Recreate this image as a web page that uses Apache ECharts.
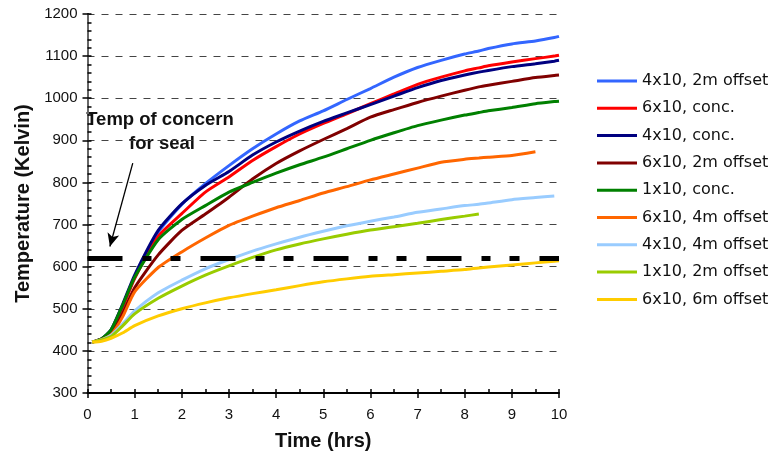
<!DOCTYPE html>
<html>
<head>
<meta charset="utf-8">
<script src="https://cdn.jsdelivr.net/npm/echarts@6/dist/echarts.min.js"></script>
<style>
  html, body { margin: 0; padding: 0; background: #fff; }
  #chart { width: 775px; height: 458px; }
</style>
</head>
<body>
<div id="chart"></div>
<script>
// time in hours
var hours = [0.1, 0.3, 0.5, 0.75, 1, 1.5, 2, 2.5, 3, 3.5, 4, 4.5, 5, 5.5, 6, 6.5, 7, 7.5, 8, 8.3, 8.5, 9, 9.5, 9.9, 10]

// temperatures (Kelvin), one array per case
var t4x10Off2 = [421, 428, 445, 505, 575, 682, 748, 797, 840, 880, 915, 946, 970, 997, 1023, 1050, 1073, 1090, 1105, 1112, 1118, 1129, 1136, 1144, 1147]
var t6x10Conc = [421, 428, 445, 505, 572, 672, 726, 777, 813, 852, 885, 915, 940, 963, 987, 1010, 1033, 1050, 1065, 1072, 1077, 1086, 1094, 1100, 1102]
var t4x10Conc = [421, 429, 450, 512, 580, 686, 749, 793, 826, 865, 896, 922, 945, 965, 985, 1005, 1025, 1042, 1055, 1062, 1066, 1075, 1082, 1088, 1090]
var t6x10Off2 = [421, 427, 440, 490, 550, 628, 686, 725, 765, 808, 845, 875, 902, 928, 955, 973, 990, 1005, 1019, 1027, 1031, 1040, 1049, 1054, 1055]
var t1x10Conc = [421, 429, 450, 510, 575, 664, 712, 745, 777, 800, 822, 842, 860, 880, 900, 918, 935, 948, 960, 966, 970, 978, 987, 992, 993]
var t6x10Off4 = [421, 427, 438, 482, 540, 598, 635, 668, 698, 720, 740, 757, 775, 790, 806, 820, 834, 848, 855, 858, 860, 864, 873, null, null]
var t4x10Off4 = [421, 426, 437, 465, 495, 538, 568, 595, 617, 637, 654, 670, 684, 697, 708, 718, 729, 737, 745, 748, 751, 759, 764, 768, null]
var t1x10Off2 = [421, 426, 434, 460, 488, 525, 554, 580, 602, 622, 640, 654, 666, 677, 687, 695, 703, 712, 720, 725, null, null, null, null, null]
var t6x10Off6 = [421, 423, 430, 443, 460, 483, 500, 514, 526, 536, 545, 555, 564, 571, 577, 581, 585, 589, 593, 597, 599, 604, 609, 613, 614]

var seriesNames = ['4x10, 2m offset', '6x10, conc.', '4x10, conc.', '6x10, 2m offset', '1x10, conc.',
  '6x10, 4m offset', '4x10, 4m offset', '1x10, 2m offset', '6x10, 6m offset']
var seriesValues = [t4x10Off2, t6x10Conc, t4x10Conc, t6x10Off2, t1x10Conc, t6x10Off4, t4x10Off4, t1x10Off2, t6x10Off6]
var seriesColors = ['#3366FF', '#FF0000', '#000080', '#800000', '#008000', '#FF6600', '#99CCFF', '#99CC00', '#FFCC00']

var concernTemp = 620

function pairs(vals) {
  var out = []
  for (var i = 0; i < hours.length; i++) {
    if (vals[i] != null) out.push([hours[i], vals[i]])
  }
  return out
}

var chart = echarts.init(document.getElementById('chart'), null, { renderer: 'canvas' })

var series = seriesNames.map(function(name, i) {
  return {
    name: name,
    type: 'line',
    data: pairs(seriesValues[i]),
    showSymbol: false,
    symbol: 'none',
    smooth: 0.2,
    lineStyle: { color: seriesColors[i], width: 3 },
    itemStyle: { color: seriesColors[i] },
    z: 3
  }
})

// threshold line + arrow
series.push({
  name: 'concern',
  type: 'line',
  data: [],
  markLine: {
    silent: true,
    animation: false,
    label: { show: false },
    emphasis: { disabled: true },
    data: [
      [
        { coord: [0, concernTemp], symbol: 'none', lineStyle: { color: '#000', width: 5, type: [35, 20, 9, 19, 10, 20], cap: 'butt' } },
        { coord: [10, concernTemp], symbol: 'none' }
      ],
      [
        { coord: [0.96, 846], symbol: 'none', lineStyle: { color: '#000', width: 1.3, type: 'solid' } },
        { coord: [0.475, 648], symbol: 'arrow', symbolSize: [9, 13] }
      ]
    ]
  },
  z: 5
})

var labelFont = { fontFamily: 'Liberation Sans', fontSize: 15, color: '#111' }
var plain = function(v) { return String(v) }

chart.setOption({
  animation: false,
  grid: { left: 87.5, right: 216, top: 14, bottom: 65 },
  legend: {
    orient: 'vertical',
    left: 592,
    top: 68,
    icon: 'rect',
    itemWidth: 40,
    itemHeight: 3,
    itemGap: 11.3,
    data: seriesNames,
    textStyle: { fontFamily: 'DejaVu Sans', fontSize: 16, color: '#111' }
  },
  graphic: [
    { type: 'text', position: [160, 120], style: { text: 'Temp of concern', x: 0, y: 0, align: 'center', verticalAlign: 'middle', font: 'bold 18.5px "Liberation Sans"', fill: '#111' } },
    { type: 'text', position: [162, 144], style: { text: 'for seal', x: 0, y: 0, align: 'center', verticalAlign: 'middle', font: 'bold 18.5px "Liberation Sans"', fill: '#111' } }
  ],
  xAxis: [
    {
      type: 'value', min: 0, max: 10, interval: 1,
      name: 'Time (hrs)', nameLocation: 'middle', nameGap: 38,
      nameTextStyle: { fontFamily: 'Liberation Sans', fontWeight: 'bold', fontSize: 20, color: '#111' },
      axisLine: { show: true, onZero: false, lineStyle: { color: '#000', width: 2 } },
      axisTick: { show: true, length: 5, lineStyle: { color: '#000', width: 1.5 } },
      axisLabel: Object.assign({ margin: 14, formatter: plain }, labelFont),
      splitLine: { show: false }
    },
    {
      type: 'value', min: 0, max: 10, interval: 1, position: 'bottom',
      axisLine: { show: false },
      axisTick: { show: true, inside: true, length: 4, lineStyle: { color: '#000', width: 1.5 } },
      minorTick: { show: true, splitNumber: 2, length: 4, lineStyle: { color: '#000', width: 1.5 } },
      axisLabel: { show: false },
      splitLine: { show: false }
    }
  ],
  yAxis: [
    {
      type: 'value', min: 300, max: 1200, interval: 100,
      name: 'Temperature (Kelvin)', nameLocation: 'middle', nameGap: 54,
      nameTextStyle: { fontFamily: 'Liberation Sans', fontWeight: 'bold', fontSize: 20, color: '#111' },
      axisLine: { show: true, onZero: false, lineStyle: { color: '#000', width: 2 } },
      axisTick: { show: true, length: 5, lineStyle: { color: '#000', width: 1.5 } },
      axisLabel: Object.assign({ margin: 10, formatter: plain }, labelFont),
      splitLine: { show: true, lineStyle: { color: '#444', width: 1, type: [7, 7] } }
    },
    {
      type: 'value', min: 300, max: 1200, interval: 100, position: 'left',
      axisLine: { show: false },
      axisTick: { show: true, inside: true, length: 4, lineStyle: { color: '#000', width: 1.5 } },
      minorTick: { show: true, splitNumber: 5, length: 4, lineStyle: { color: '#000', width: 1.5 } },
      axisLabel: { show: false },
      splitLine: { show: false }
    },
    {
      type: 'value', min: 300, max: 1200, interval: 100, position: 'right',
      axisLine: { show: true, lineStyle: { color: '#888', width: 1.5 } },
      axisTick: { show: false },
      axisLabel: { show: false },
      splitLine: { show: false }
    }
  ],
  series: series
})
</script>
</body>
</html>
